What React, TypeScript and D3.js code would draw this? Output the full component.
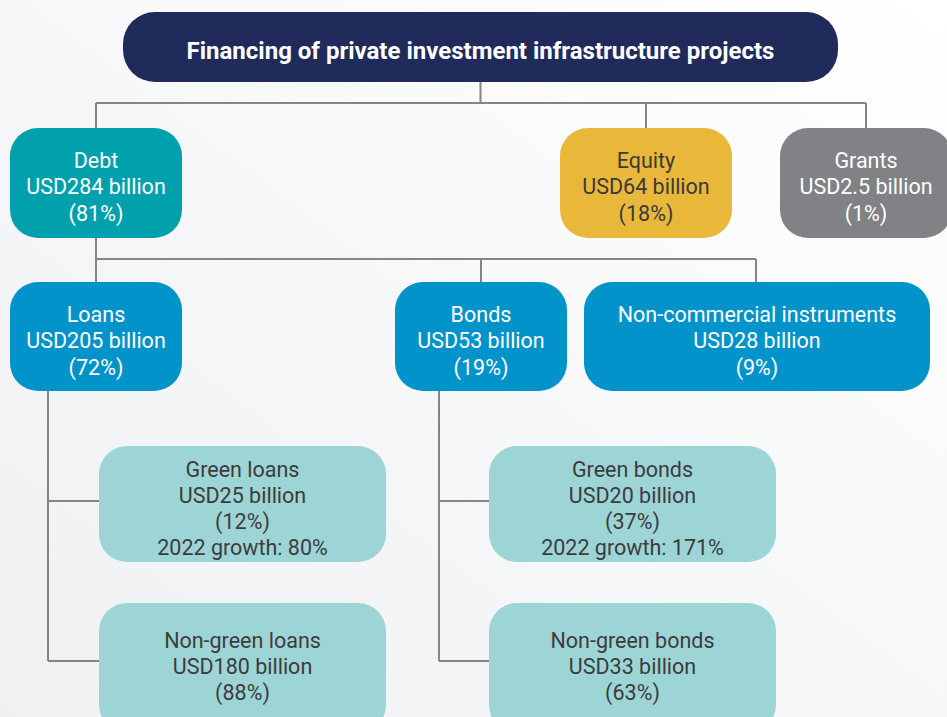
import React, { useEffect, useRef } from "react";
import * as d3 from "d3";

// chart data
const title = "Financing of private investment infrastructure projects";
const names = ["Debt", "Equity", "Grants", "Loans", "Bonds", "Non-commercial instruments", "Green loans", "Non-green loans", "Green bonds", "Non-green bonds"];
const amounts = ["USD284 billion", "USD64 billion", "USD2.5 billion", "USD205 billion", "USD53 billion", "USD28 billion", "USD25 billion", "USD180 billion", "USD20 billion", "USD33 billion"];
const shares = [81, 18, 1, 72, 19, 9, 12, 88, 37, 63];
const growth = [null, null, null, null, null, null, 80, null, 171, null];
const parents = ["root", "root", "root", "Debt", "Debt", "Debt", "Loans", "Loans", "Bonds", "Bonds"];

// layout (box geometry) kept apart from the data
const layout = {
  root: { x: 123, y: 12, w: 715, h: 70, fill: "#212b5b", text: "#ffffff" },
  Debt: { x: 10, y: 128, w: 172, h: 110, fill: "#00a1ad", text: "#ffffff" },
  Equity: { x: 560, y: 128, w: 172, h: 110, fill: "#e9b83a", text: "#3a3a3a" },
  Grants: { x: 780, y: 128, w: 172, h: 110, fill: "#808285", text: "#ffffff" },
  Loans: { x: 10, y: 282, w: 172, h: 109, fill: "#0193c9", text: "#ffffff" },
  Bonds: { x: 395, y: 282, w: 172, h: 109, fill: "#0193c9", text: "#ffffff" },
  "Non-commercial instruments": { x: 584, y: 282, w: 346, h: 109, fill: "#0193c9", text: "#ffffff" },
  "Green loans": { x: 99, y: 446, w: 287, h: 116, fill: "#9dd4d6", text: "#3c3c3c" },
  "Non-green loans": { x: 99, y: 603, w: 287, h: 130, fill: "#9dd4d6", text: "#3c3c3c" },
  "Green bonds": { x: 489, y: 446, w: 287, h: 116, fill: "#9dd4d6", text: "#3c3c3c" },
  "Non-green bonds": { x: 489, y: 603, w: 287, h: 130, fill: "#9dd4d6", text: "#3c3c3c" },
};

const W = 947, H = 717;

export default function App() {
  const ref = useRef<SVGSVGElement>(null);

  useEffect(() => {
    const svg = d3.select(ref.current);
    svg.selectAll("*").remove();

    const defs = svg.append("defs");
    const grad = defs.append("linearGradient").attr("id", "bg")
      .attr("x1", "100%").attr("y1", "0%").attr("x2", "0%").attr("y2", "100%");
    grad.append("stop").attr("offset", "0%").attr("stop-color", "#ffffff");
    grad.append("stop").attr("offset", "100%").attr("stop-color", "#eff0f2");
    svg.append("rect").attr("width", W).attr("height", H).attr("fill", "url(#bg)");

    const lines = svg.append("g").attr("stroke", "#858585").attr("stroke-width", 2).attr("fill", "none");
    const cx = (k: string) => layout[k].x + layout[k].w / 2;
    const bottom = (k: string) => layout[k].y + layout[k].h;

    // top level: bus connector
    const topKids = names.filter((n, i) => parents[i] === "root");
    const busY1 = 103;
    lines.append("path").attr("d", `M${cx("root")},${bottom("root")}V${busY1}`);
    lines.append("path").attr("d", `M${d3.min(topKids, cx)},${busY1}H${d3.max(topKids, cx)}`);
    topKids.forEach(k => lines.append("path").attr("d", `M${cx(k)},${busY1}V${layout[k].y}`));

    // debt children
    const debtKids = names.filter((n, i) => parents[i] === "Debt");
    const busY2 = 259;
    const debtX = cx("Debt");
    const dropX = (k: string) => k === "Non-commercial instruments" ? 756 : cx(k);
    lines.append("path").attr("d", `M${debtX},${bottom("Debt")}V${layout.Loans.y}`);
    lines.append("path").attr("d", `M${debtX},${busY2}H${d3.max(debtKids, dropX)}`);
    debtKids.filter(k => k !== "Loans").forEach(k => lines.append("path").attr("d", `M${dropX(k)},${busY2}V${layout[k].y}`));

    // elbow connectors for loans / bonds
    ["Loans", "Bonds"].forEach(p => {
      const kids = names.filter((n, i) => parents[i] === p);
      const sx = layout[p].x + 38 + (p === "Bonds" ? 6 : 0);
      const ys = kids.map(k => layout[k].y + (k.startsWith("Green") ? 55 : 58));
      lines.append("path").attr("d", `M${sx},${bottom(p)}V${d3.max(ys)}`);
      kids.forEach((k, j) => lines.append("path").attr("d", `M${sx},${ys[j]}H${layout[k].x}`));
    });

    const font = "Roboto, 'Noto Sans', sans-serif";

    // title
    const r = layout.root;
    svg.append("rect").attr("x", r.x).attr("y", r.y).attr("width", r.w).attr("height", r.h)
      .attr("rx", 32).attr("fill", r.fill);
    svg.append("text").attr("x", cx("root")).attr("y", r.y + r.h / 2 + 12)
      .attr("text-anchor", "middle").attr("font-family", font).attr("font-weight", 700)
      .attr("font-size", 24).attr("fill", r.text).text(title);

    // nodes
    const nodes = svg.append("g").selectAll("g").data(names).join("g");
    nodes.append("rect")
      .attr("x", d => layout[d].x).attr("y", d => layout[d].y)
      .attr("width", d => layout[d].w).attr("height", d => layout[d].h)
      .attr("rx", 28).attr("fill", d => layout[d].fill);

    nodes.each(function (d, i) {
      const L = layout[d];
      const rows = [d, amounts[i], `(${shares[i]}%)`];
      if (growth[i] != null) rows.push(`2022 growth: ${growth[i]}%`);
      const lh = 26.3;
      const y0 = L.h > 120 && rows.length === 3 ? L.y + 44.5 : rows.length === 4 ? L.y + 30.5 : L.y + 40;
      d3.select(this).append("text")
        .attr("text-anchor", "middle").attr("font-family", font).attr("font-weight", 400)
        .attr("font-size", 21.5).attr("fill", L.text)
        .selectAll("tspan").data(rows).join("tspan")
        .attr("x", L.x + L.w / 2).attr("y", (t, j) => y0 + j * lh)
        .text(t => t);
    });
  }, []);

  return (
    <svg ref={ref} width={W} height={H}
      style={{ position: "absolute", left: 0, top: 0, display: "block" }} />
  );
}
